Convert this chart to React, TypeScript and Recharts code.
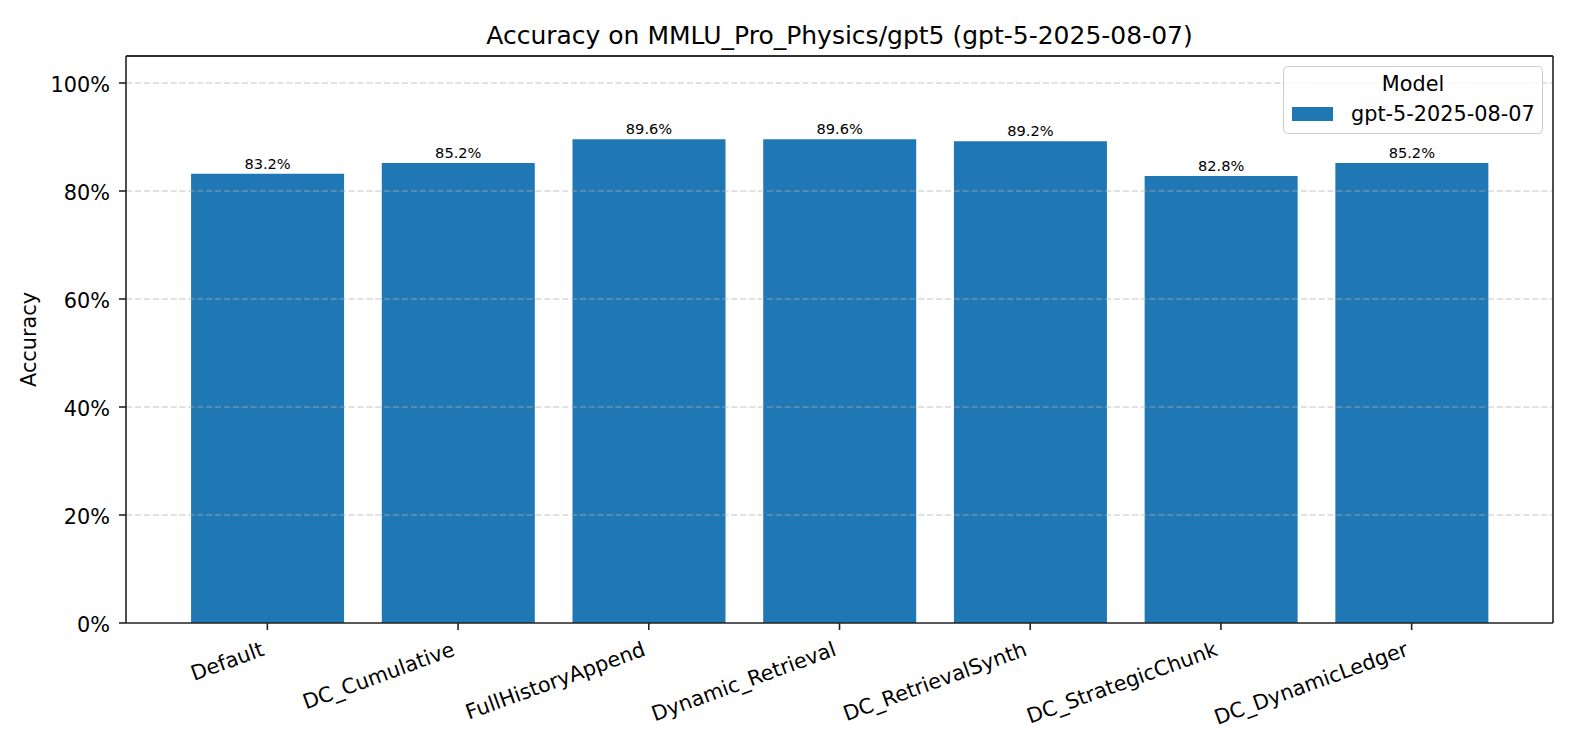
import React from "react"
import { BarChart, Bar, XAxis, YAxis, LabelList, Legend, ReferenceLine } from "recharts"

const methods = [
    "Default",
    "DC_Cumulative",
    "FullHistoryAppend",
    "Dynamic_Retrieval",
    "DC_RetrievalSynth",
    "DC_StrategicChunk",
    "DC_DynamicLedger",
]
const accuracy = [83.2, 85.2, 89.6, 89.6, 89.2, 82.8, 85.2]
const yTicks = [0, 20, 40, 60, 80, 100]
const modelName = "gpt-5-2025-08-07"
const chartTitle = "Accuracy on MMLU_Pro_Physics/gpt5 (gpt-5-2025-08-07)"

const BLUE = "#1f77b4"
const INK = "#222"
const FONT = "'DejaVu Sans', sans-serif"

const data = methods.map((m, i) => ({ name: m, acc: accuracy[i] }))

const RotatedTick = ({ x, y, payload }: any) => {
    const tx = x - 2
    const ty = y + 25
    return (
        <text
            x={tx}
            y={ty}
            textAnchor="end"
            transform={`rotate(-20, ${tx}, ${ty})`}
            fontSize={20.8}
            fill="#000"
            fontFamily={FONT}
        >
            {payload.value}
        </text>
    )
}

const LegendBox = ({ payload }: any) => {
    const entry = payload && payload[0]
    return (
        <svg width={261} height={69} style={{ display: "block" }}>
            <rect x={0.5} y={0.5} width={259} height={67} rx={4} fill="#fff" fillOpacity={0.8} stroke="#cccccc" />
            <text x={130} y={25} textAnchor="middle" fontSize={20.8} fill="#000" fontFamily={FONT}>
                Model
            </text>
            <rect x={9} y={41} width={41} height={14} fill={entry ? entry.color : BLUE} />
            <text x={68} y={55} fontSize={20.8} fill="#000" fontFamily={FONT}>
                {entry ? entry.value : modelName}
            </text>
        </svg>
    )
}

export default function App() {
    return (
        <div style={{ position: "absolute", left: 0, top: 0, width: 1575, height: 750, background: "#fff", fontFamily: FONT }}>
            <div
                style={{
                    position: "absolute",
                    left: 126,
                    width: 1427,
                    top: 23,
                    fontSize: 25,
                    lineHeight: "25px",
                    textAlign: "center",
                    color: "#000",
                    whiteSpace: "nowrap",
                }}
            >
                {chartTitle}
            </div>
            <BarChart
                width={1575}
                height={750}
                data={data}
                margin={{ top: 55, right: 21, left: 0, bottom: 0 }}
                barCategoryGap="10%"
            >
                <XAxis
                    dataKey="name"
                    interval={0}
                    height={127}
                    padding={{ left: 46, right: 46 }}
                    tickSize={7}
                    tickMargin={0}
                    tick={<RotatedTick />}
                    axisLine={{ stroke: INK, strokeWidth: 1.6 }}
                    tickLine={{ stroke: INK, strokeWidth: 1.6 }}
                />
                <XAxis
                    xAxisId="top"
                    orientation="top"
                    dataKey="name"
                    height={1}
                    padding={{ left: 46, right: 46 }}
                    tick={false}
                    tickLine={false}
                    axisLine={{ stroke: INK, strokeWidth: 1.6 }}
                />
                <YAxis
                    width={126}
                    domain={[0, 105]}
                    ticks={yTicks}
                    tickFormatter={(v: number) => `${v}%`}
                    tickSize={7}
                    tickMargin={9}
                    tick={{ fontSize: 20.8, fill: "#000", fontFamily: FONT, dy: 2 }}
                    axisLine={{ stroke: INK, strokeWidth: 1.6 }}
                    tickLine={{ stroke: INK, strokeWidth: 1.6 }}
                    label={{
                        content: (props: any) => {
                            const vb = props.viewBox || {}
                            const cy = (vb.y || 56) + (vb.height || 567) / 2
                            return (
                                <text
                                    x={36}
                                    y={cy}
                                    textAnchor="middle"
                                    transform={`rotate(-90, 36, ${cy})`}
                                    fontSize={20.8}
                                    fill="#000"
                                    fontFamily={FONT}
                                >
                                    Accuracy
                                </text>
                            )
                        },
                    }}
                />
                <YAxis
                    yAxisId="right"
                    orientation="right"
                    width={1}
                    domain={[0, 105]}
                    tick={false}
                    tickLine={false}
                    axisLine={{ stroke: INK, strokeWidth: 1.6 }}
                />
                <Bar dataKey="acc" name={modelName} fill={BLUE} isAnimationActive={false}>
                    <LabelList
                        dataKey="acc"
                        position="top"
                        offset={5}
                        formatter={(v: any) => `${Number(v).toFixed(1)}%`}
                        style={{ fontSize: 14.6, fill: "#000", fontFamily: FONT }}
                    />
                </Bar>
                {yTicks.filter((t) => t > 0).map((t) => (
                    <ReferenceLine
                        key={t}
                        y={t}
                        stroke="#b0b0b0"
                        strokeOpacity={0.5}
                        strokeWidth={1.6}
                        strokeDasharray="6.2 2.7"
                    />
                ))}
                <ReferenceLine y={105} stroke={INK} strokeWidth={1.6} />
                <Legend
                    layout="vertical"
                    align="center"
                    verticalAlign="middle"
                    wrapperStyle={{ left: 1283, top: 66, width: 261, height: 69 }}
                    content={<LegendBox />}
                />
            </BarChart>
        </div>
    )
}
